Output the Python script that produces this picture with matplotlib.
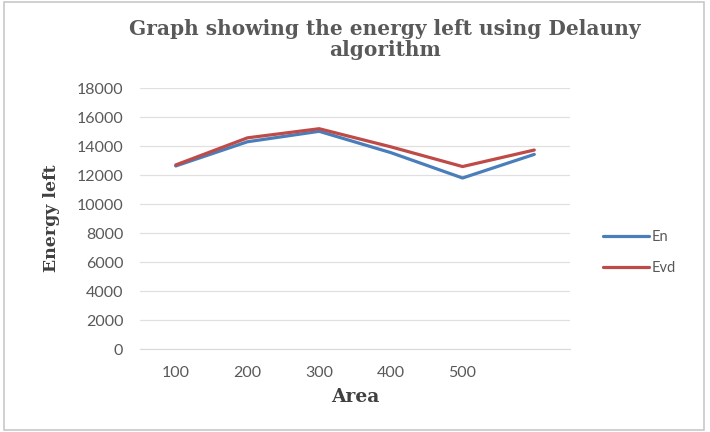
import matplotlib.pyplot as plt
from matplotlib.patches import Rectangle

# Data
areas = ["100", "200", "300", "400", "500", ""]
en = [12630, 14300, 15020, 13550, 11800, 13430]
evd = [12700, 14570, 15200, 13950, 12590, 13730]
yticks = list(range(0, 18001, 2000))

fig = plt.figure(figsize=(7.1, 4.32), dpi=100)
ax = fig.add_axes([0.197, 0.192, 0.606, 0.604])

x = range(len(areas))
ax.plot(x, en, color="#4a7ebb", lw=2.3, label="En", solid_capstyle="round")
ax.plot(x, evd, color="#be4b48", lw=2.3, label="Evd", solid_capstyle="round")

ax.set_xlim(-0.5, len(areas) - 0.5)
ax.set_ylim(0, 18000)
ax.set_yticks(yticks)
ax.set_yticklabels([str(v) for v in yticks])
ax.set_xticks(list(x))
ax.set_xticklabels(areas)
ax.grid(axis="y", color="#e0e0e0", lw=0.9)
ax.set_axisbelow(True)
for s in ["top", "right", "left"]:
    ax.spines[s].set_visible(False)
ax.spines["bottom"].set_color("#d9d9d9")
ax.tick_params(length=0, labelsize=11.5, colors="#595959", pad=12)
for lab in ax.get_xticklabels() + ax.get_yticklabels():
    lab.set_fontfamily("Lato")

# title is centred on the whole chart area, not the plot
fig.text(0.542, 0.957, "Graph showing the energy left using Delauny\nalgorithm",
         ha="center", va="top", fontfamily="DejaVu Serif", fontweight="bold",
         fontsize=14.5, color="#595959", linespacing=1.1)
ax.set_ylabel("Energy left", fontfamily="DejaVu Serif", fontweight="bold",
              fontsize=12.5, color="#404040", labelpad=12)
ax.set_xlabel("Area", fontfamily="DejaVu Serif", fontweight="bold",
              fontsize=13.5, color="#404040", labelpad=6)

leg = ax.legend(loc="center left", bbox_to_anchor=(1.045, 0.37), frameon=False,
                prop={"family": "Lato", "size": 10.5}, handlelength=3.2,
                labelspacing=1.2, handletextpad=0.15)
for t in leg.get_texts():
    t.set_color("#595959")

fig.patches.append(Rectangle((0.006, 0.005), 0.985, 0.99, transform=fig.transFigure,
                             fill=False, edgecolor="#c8c8c8", lw=1.2))

fig.savefig("out.png", dpi=100)
